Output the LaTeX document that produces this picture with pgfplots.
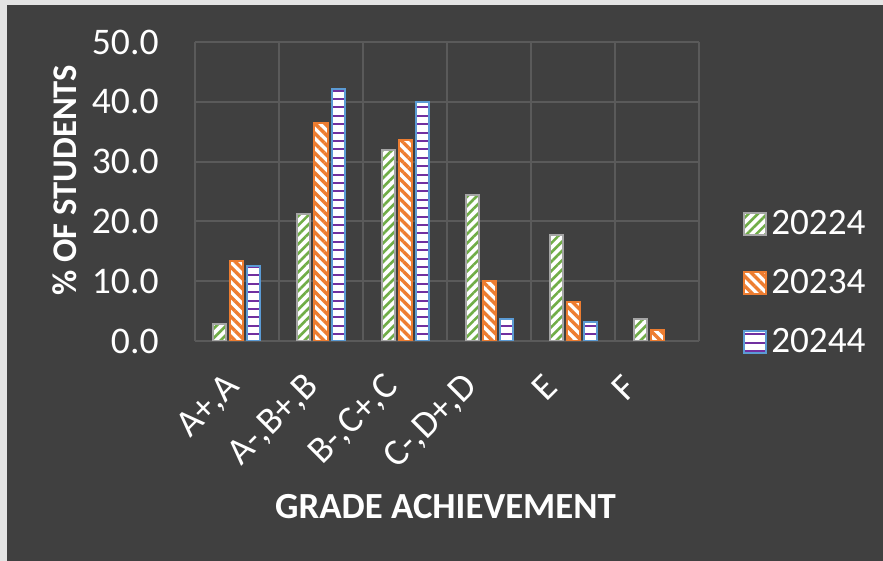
\documentclass[border=0pt]{standalone}
\usepackage{fontspec}
\setmainfont{Carlito}
\usepackage{pgfplots}
\pgfplotsset{compat=1.18}
\usetikzlibrary{patterns.meta}

\definecolor{bg}{HTML}{404040}
\definecolor{framegray}{HTML}{E4E4E4}
\definecolor{gridgray}{HTML}{5A5A5A}
\definecolor{cGreen}{HTML}{70AD47}
\definecolor{cGreenEdge}{HTML}{A5A5A5}
\definecolor{cOrange}{HTML}{ED7D31}
\definecolor{cBlue}{HTML}{5B9BD5}
\definecolor{cPurple}{HTML}{7030A0}

\begin{document}
\begin{tikzpicture}
% chart area background
\fill[framegray] (-97.5pt,-110pt) rectangle (344pt,170.5pt);
\fill[bg] (-94pt,-110pt) rectangle (344pt,168pt);

\begin{axis}[
    scale only axis,
    width=252pt, height=149.5pt,
    ybar=2pt, bar width=6.5pt,
    xmin=-0.5, xmax=5.5,
    ymin=0, ymax=50,
    ytick={0,10,...,50},
    xtick={-0.03,0.913,1.856,2.799,3.742,4.685},
    xticklabels={{A+,A},{A-,B+,B},{B-,C+,C},{C-,D+,D},E,F},
    minor xtick={-0.5,0.5,...,5.5},
    xminorgrids, ymajorgrids,
    grid style={gridgray, line width=1pt},
    minor grid style={gridgray, line width=1pt},
    major tick length=0pt, minor tick length=0pt,
    axis line style={draw=none},
    /pgf/number format/assume math mode=true,
    /pgf/number format/.cd, fixed, fixed zerofill, precision=1, /pgfplots/.cd,
    tick label style={font=\fontsize{18.8}{22}\selectfont, text=white},
    yticklabel style={anchor=east, inner sep=0pt, xshift=-18pt},
    xticklabel style={yshift=-20pt, rotate=45, anchor=east, inner sep=0pt},
    ylabel={\% OF STUDENTS},
    ylabel style={at={(axis description cs:-0.258,0.538)}, anchor=center, rotate=0,
        font=\bfseries\fontsize{17.3}{20}\selectfont, text=white},
    xlabel={GRADE ACHIEVEMENT},
    xlabel style={at={(axis description cs:0.497,-0.555)}, anchor=center,
        font=\bfseries\fontsize{18.4}{22}\selectfont, text=white},
    legend image code/.code={\draw[#1] (0pt,-5.5pt) rectangle (11pt,5.5pt);},
    legend style={at={(axis description cs:1.087,0.194)}, anchor=west,
        draw=none, fill=none, inner sep=0pt, text=white,
        font=\fontsize{18.6}{22}\selectfont, row sep=12pt,
        legend cell align=left},
]

\addplot[draw=cGreenEdge, line width=1pt, preaction={fill=white},
    pattern={Lines[angle=45, distance=3.3pt, line width=1.3pt]}, pattern color=cGreen]
    coordinates {(0,2.8) (1,21.2) (2,31.9) (3,24.4) (4,17.8) (5,3.7)};
\addplot[draw=cOrange, line width=1pt, preaction={fill=white},
    pattern={Lines[angle=-45, distance=3.5pt, line width=1.7pt]}, pattern color=cOrange]
    coordinates {(0,13.4) (1,36.5) (2,33.6) (3,10.0) (4,6.6) (5,1.8)};
\addplot[draw=cBlue, line width=1pt, preaction={fill=white},
    pattern={Lines[angle=0, distance=4.2pt, line width=1pt]}, pattern color=cPurple]
    coordinates {(0,12.6) (1,42.1) (2,40.0) (3,3.6) (4,3.1)};

\legend{20224,20234,20244}
\end{axis}
\pgfresetboundingbox
\path[use as bounding box] (-97.5pt,-110pt) rectangle (344pt,170.5pt);
\end{tikzpicture}
\end{document}
